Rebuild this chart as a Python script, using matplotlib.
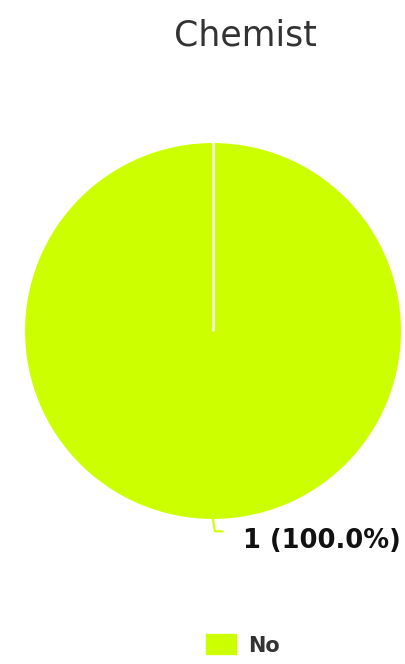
import matplotlib
matplotlib.use("Agg")
import matplotlib.pyplot as plt
from matplotlib.patches import Patch
import numpy as np

# Chart data
title = "Chemist"
labels = ["No"]
counts = [1]
colors = ["#ccff00"]

fig = plt.figure(figsize=(4.06, 6.64), dpi=100)

# pie centre ~ (213, 331) px, radius ~ 189 px
W, H = 406, 664
cx, cy, r = 213, 331, 189
ax = fig.add_axes([(cx - r) / W, (H - cy - r) / H, 2 * r / W, 2 * r / H])

wedges, _ = ax.pie(counts, colors=colors, startangle=90, counterclock=False,
                   radius=1, wedgeprops=dict(edgecolor="white", linewidth=1.5))
ax.set_xlim(-1, 1)
ax.set_ylim(-1, 1)
ax.set_aspect("equal")
ax.axis("off")

# slice borders (a full-circle wedge has no radial edge of its own)
for w in wedges:
    a = np.deg2rad(w.theta2)
    ax.plot([0, np.cos(a)], [0, np.sin(a)], color="white", lw=1.8,
            solid_capstyle="butt")

# value labels with a small leader line
total = sum(counts)
for w, c in zip(wedges, counts):
    mid = np.deg2rad((w.theta1 + w.theta2) / 2)
    x0, y0 = np.cos(mid), np.sin(mid)
    ax.plot([x0, x0 + 0.01, x0 + 0.05], [y0, y0 - 0.06, y0 - 0.06],
            color=colors[0], lw=1.5, clip_on=False)
    ax.text(x0 + 0.16, y0 - 0.11, "%d (%.1f%%)" % (c, 100.0 * c / total),
            fontsize=18.5, fontweight="bold", color="#111111",
            ha="left", va="center", clip_on=False)

fig.text(245 / W, 1 - 35 / H, title, fontsize=25, color="#333333",
         ha="center", va="center")

handles = [Patch(facecolor=col, edgecolor=col) for col in colors]
leg = fig.legend(handles, labels, loc="center", bbox_to_anchor=(243 / W, 1 - 645 / H),
                 frameon=False, prop=dict(weight="bold", size=15),
                 handlelength=1.44, handleheight=1.1, handletextpad=0.6,
                 borderpad=0, borderaxespad=0)
for t in leg.get_texts():
    t.set_color("#333333")

fig.savefig("out.png", dpi=100, facecolor="white")
